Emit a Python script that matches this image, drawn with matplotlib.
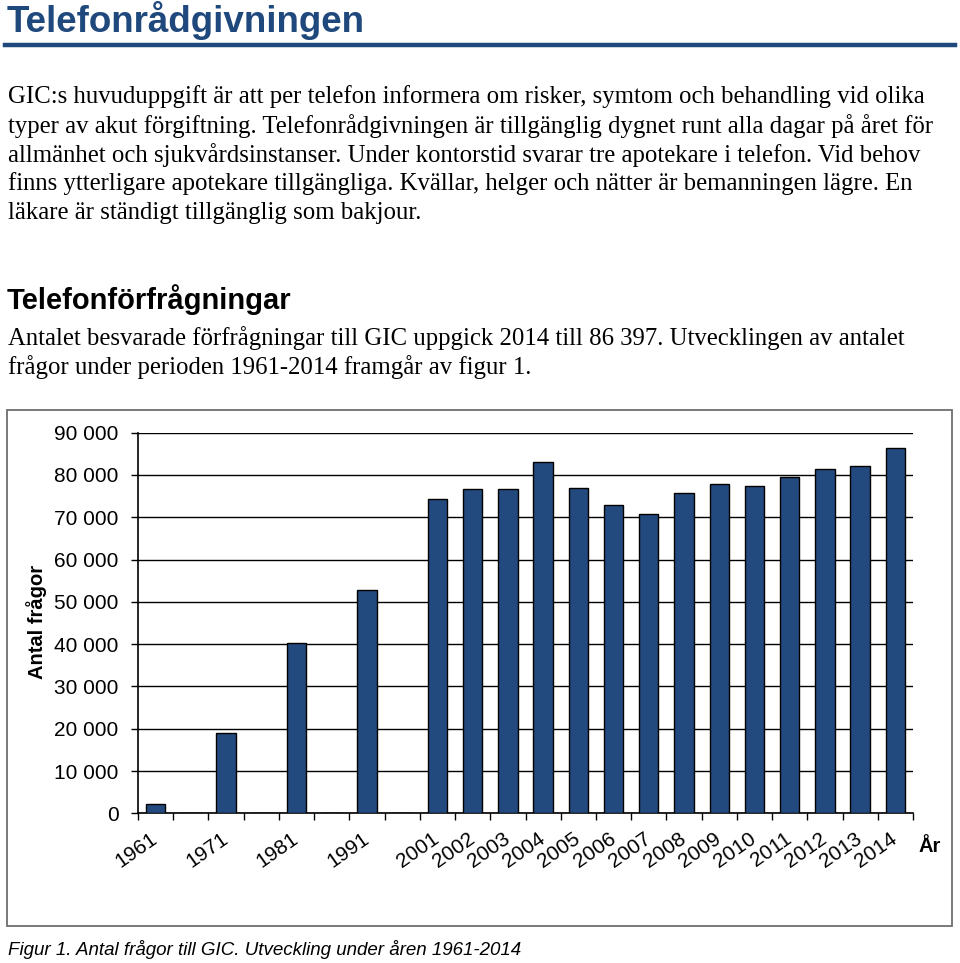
import matplotlib
matplotlib.use("Agg")
import matplotlib.pyplot as plt
from matplotlib.lines import Line2D
from matplotlib.patches import Rectangle
import numpy as np

categories = ["1961", "", "1971", "", "1981", "", "1991", "",
              "2001", "2002", "2003", "2004", "2005", "2006", "2007",
              "2008", "2009", "2010", "2011", "2012", "2013", "2014"]
values = [2200, 0, 19000, 0, 40200, 0, 52700, 0,
          74400, 76800, 76600, 83000, 77000, 72900, 70700,
          75800, 77900, 77400, 79600, 81400, 82200, 86397]
yticks = [0, 10000, 20000, 30000, 40000, 50000, 60000, 70000, 80000, 90000]
ytick_labels = ["0", "10 000", "20 000", "30 000", "40 000", "50 000",
                "60 000", "70 000", "80 000", "90 000"]

W, H = 960, 963
fig = plt.figure(figsize=(W / 100, H / 100), dpi=100)

def fx(px):
    return px / W

def fy(py):
    return 1 - py / H

sans = ["Liberation Sans", "DejaVu Sans"]
serif = ["Liberation Serif", "DejaVu Serif"]
navy = "#1f487c"

# Title and rule
fig.text(fx(7), fy(21), "Telefonrådgivningen", family=sans, fontweight="bold",
         fontsize=26.5, color=navy, va="center", ha="left")
fig.add_artist(Line2D([fx(5), fx(955)], [fy(45), fy(45)], color=navy, lw=3.2,
                      transform=fig.transFigure))

body = [
    (97, "GIC:s huvuduppgift är att per telefon informera om risker, symtom och behandling vid olika"),
    (126, "typer av akut förgiftning. Telefonrådgivningen är tillgänglig dygnet runt alla dagar på året för"),
    (155, "allmänhet och sjukvårdsinstanser. Under kontorstid svarar tre apotekare i telefon. Vid behov"),
    (184, "finns ytterligare apotekare tillgängliga. Kvällar, helger och nätter är bemanningen lägre. En"),
    (213, "läkare är ständigt tillgänglig som bakjour."),
    (338, "Antalet besvarade förfrågningar till GIC uppgick 2014 till 86 397. Utvecklingen av antalet"),
    (367, "frågor under perioden 1961-2014 framgår av figur 1."),
]
for y, t in body:
    fig.text(fx(8), fy(y), t, family=serif, fontsize=17.8, va="center", ha="left", color="black")

fig.text(fx(7), fy(300), "Telefonförfrågningar", family=sans, fontweight="bold",
         fontsize=21, va="center", ha="left", color="black")

# Chart frame
fig.add_artist(Rectangle((fx(7), fy(926)), fx(952) - fx(7), fy(410) - fy(926),
                         transform=fig.transFigure, fill=False, edgecolor="#6e6e6e", lw=1.3))

ax = fig.add_axes([fx(138), fy(813.3), fx(913) - fx(138), fy(432.7) - fy(813.3)])
x = np.arange(len(categories))
ax.bar(x, values, width=0.55, color="#224a7e", edgecolor="black", linewidth=1.0, zorder=3)
ax.set_xlim(-0.5, len(categories) - 0.5)
ax.set_ylim(0, 90000)
ax.set_yticks(yticks)
ax.set_yticklabels(ytick_labels, family=sans, fontsize=15)
ax.yaxis.grid(True, color="black", lw=1.0, zorder=0)
ax.set_axisbelow(True)
for s in ["top", "right"]:
    ax.spines[s].set_visible(False)
ax.spines["left"].set_color("black")
ax.spines["bottom"].set_color("black")
ax.spines["left"].set_linewidth(1.2)
ax.spines["bottom"].set_linewidth(1.2)
ax.tick_params(axis="y", length=5, width=1.0, pad=9, colors="black")

ax.set_xticks(x)
ax.set_xticklabels(categories, family=sans, fontsize=15, rotation=35,
                   ha="right", va="center", rotation_mode="anchor")
ax.tick_params(axis="x", which="major", length=0, pad=17)
ax.set_xticks(np.arange(-0.5, len(categories), 1.0), minor=True)
ax.tick_params(axis="x", which="minor", length=5, width=1.0, direction="out")

fig.text(fx(37), fy(622), "Antal frågor", family=sans, fontweight="bold",
         fontsize=14.5, rotation=90, va="center", ha="center")
fig.text(fx(930), fy(846), "År", family=sans, fontweight="bold",
         fontsize=14.5, va="center", ha="center")

fig.text(fx(8), fy(949), "Figur 1. Antal frågor till GIC. Utveckling under åren 1961-2014",
         family=sans, style="italic", fontsize=13.5, va="center", ha="left")

fig.savefig("out.png", dpi=100)
